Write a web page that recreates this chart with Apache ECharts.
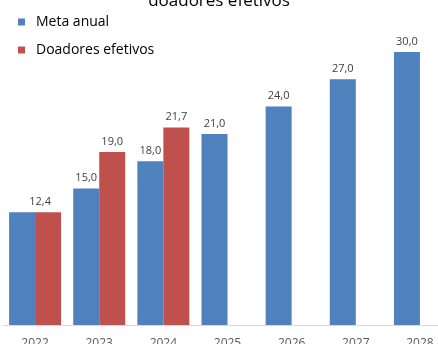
<!DOCTYPE html>
<html>
<head>
<meta charset="utf-8">
<script src="https://cdn.jsdelivr.net/npm/echarts@6/dist/echarts.min.js"></script>
<style>
  html, body { margin: 0; padding: 0; background: #fff; }
  #chart { width: 438px; height: 344px; }
</style>
</head>
<body>
<div id="chart"></div>
<script>
var years = ['2022', '2023', '2024', '2025', '2026', '2027', '2028'];
var meta_anual = [12.4, 15.0, 18.0, 21.0, 24.0, 27.0, 30.0];
var doadores_efetivos = [12.4, 19.0, 21.7, null, null, null, null];

function fmt(p) {
  return p.value.toFixed(1).replace('.', ',');
}

var font = '"Open Sans", "Noto Sans", sans-serif';

var chart_div = echarts.init(document.getElementById('chart'));

// 2022: only one label shown, sitting over the join of the two bars
var meta_data = meta_anual.map(function (v, i) {
  return i === 0 ? { value: v, label: { show: false } } : v;
});
var doadores_data = doadores_efetivos.map(function (v, i) {
  return i === 0 ? { value: v, label: { offset: [-8, 0] } } : v;
});

var option = {
  animation: false,
  title: {
    text: 'doadores efetivos',
    left: 'center',
    top: -12,
    textStyle: { fontFamily: font, fontSize: 17, fontWeight: 'normal', color: '#000' }
  },
  legend: {
    orient: 'vertical',
    left: 13,
    top: 10,
    itemWidth: 7,
    itemHeight: 7,
    itemGap: 14,
    icon: 'rect',
    textStyle: { fontFamily: font, fontSize: 14, color: '#000', padding: [0, 0, 0, 6] },
    data: ['Meta anual', 'Doadores efetivos']
  },
  grid: { left: 3, right: -14, top: 52, bottom: 19, outerBoundsMode: 'none', containLabel: false },
  xAxis: {
    type: 'category',
    data: years,
    axisLine: { lineStyle: { color: '#d9d9d9', width: 1 } },
    axisTick: { show: false },
    axisLabel: { fontFamily: font, fontSize: 12, color: '#595959', margin: 13 }
  },
  yAxis: {
    type: 'value',
    min: 0,
    max: 30,
    show: false,
    splitLine: { show: false }
  },
  series: [
    {
      name: 'Meta anual',
      type: 'bar',
      barWidth: 26,
      barGap: '0%',
      itemStyle: { color: '#4F81BD' },
      label: { show: true, position: 'top', distance: 5, formatter: fmt,
               fontFamily: font, fontSize: 11, color: '#404040' },
      data: meta_data
    },
    {
      name: 'Doadores efetivos',
      type: 'bar',
      barWidth: 26,
      itemStyle: { color: '#C0504D' },
      label: { show: true, position: 'top', distance: 5, formatter: fmt,
               fontFamily: font, fontSize: 11, color: '#404040' },
      data: doadores_data
    }
  ]
};
chart_div.setOption(option);
</script>
</body>
</html>
